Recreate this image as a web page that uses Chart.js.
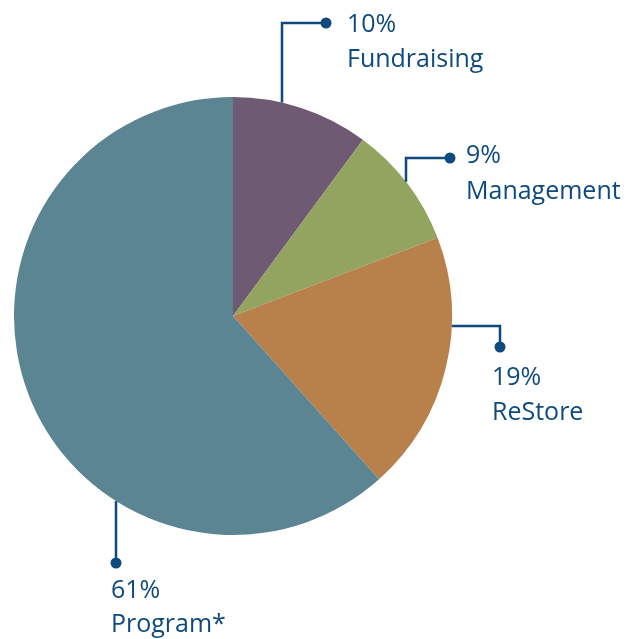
<!DOCTYPE html>
<html>
<head>
<meta charset="utf-8">
<script src="https://cdn.jsdelivr.net/npm/chart.js@4/dist/chart.umd.min.js"></script>
<style>
    html, body { margin: 0; padding: 0; background: #ffffff; }
    #wrap { position: relative; width: 641px; height: 639px; }
</style>
</head>
<body>
<div id="wrap"><canvas id="expenseChart" width="641" height="639"></canvas></div>
<script>
const categories = ['Fundraising', 'Management', 'ReStore', 'Program*'];
const percentages = [10, 9, 19, 61];
const sliceColors = ['#6e5a72', '#92a45f', '#b8804a', '#5c8594'];

const navy = '#0f4a7e';

// leader layout, relative to the pie centre (cx, cy) and radius
// kind 'v': vertical line at dx leaving the rim, then elbow to the dot
// kind 'h': horizontal line at dy leaving the rim, then elbow to the dot
const leaders = [
    { kind: 'v', dx: 49, side: -1, elbowY: -293, dotX: 93, textX: 114, textY1: -284, textY2: -249 },
    { kind: 'v', dx: 173, side: -1, elbowY: -158, dotX: 217, textX: 233, textY1: -153, textY2: -117 },
    { kind: 'h', dy: 10, side: 1, elbowX: 267, dotY: 31, textX: 259, textY1: 69, textY2: 104 },
    { kind: 'v', dx: -117, side: 1, elbowY: 247, dotX: -117, textX: -122, textY1: 282, textY2: 316 }
];

const leaderPlugin = {
    id: 'leaders',
    afterDatasetsDraw(chart) {
        const ctx = chart.ctx;
        const arc = chart.getDatasetMeta(0).data[0];
        const cx = arc.x;
        const cy = arc.y;
        const r = arc.outerRadius;

        ctx.save();
        ctx.strokeStyle = navy;
        ctx.fillStyle = navy;
        ctx.lineWidth = 2.5;
        ctx.font = '25px "Open Sans", Lato, sans-serif';
        ctx.textBaseline = 'alphabetic';
        ctx.textAlign = 'left';

        leaders.forEach((l, i) => {
            let dot;
            ctx.beginPath();
            if (l.kind === 'v') {
                const edgeY = cy + l.side * Math.sqrt(r * r - l.dx * l.dx);
                ctx.moveTo(cx + l.dx, edgeY);
                ctx.lineTo(cx + l.dx, cy + l.elbowY);
                ctx.lineTo(cx + l.dotX, cy + l.elbowY);
                dot = [cx + l.dotX, cy + l.elbowY];
            } else {
                const edgeX = cx + l.side * Math.sqrt(r * r - l.dy * l.dy);
                ctx.moveTo(edgeX, cy + l.dy);
                ctx.lineTo(cx + l.elbowX, cy + l.dy);
                ctx.lineTo(cx + l.elbowX, cy + l.dotY);
                dot = [cx + l.elbowX, cy + l.dotY];
            }
            ctx.stroke();

            ctx.beginPath();
            ctx.arc(dot[0], dot[1], 5.5, 0, Math.PI * 2);
            ctx.fill();

            ctx.fillText(percentages[i] + '%', cx + l.textX, cy + l.textY1);
            ctx.fillText(categories[i], cx + l.textX, cy + l.textY2);
        });
        ctx.restore();
    }
};

const ctx = document.getElementById('expenseChart').getContext('2d');

const config = {
    type: 'pie',
    data: {
        labels: categories,
        datasets: [{
            data: percentages,
            backgroundColor: sliceColors,
            borderWidth: 0
        }]
    },
    options: {
        responsive: false,
        animation: false,
        layout: {
            padding: { left: 14, right: 189, top: 97, bottom: 104 }
        },
        plugins: {
            legend: { display: false },
            tooltip: { enabled: false }
        }
    },
    plugins: [leaderPlugin]
};

new Chart(ctx, config);
</script>
</body>
</html>
